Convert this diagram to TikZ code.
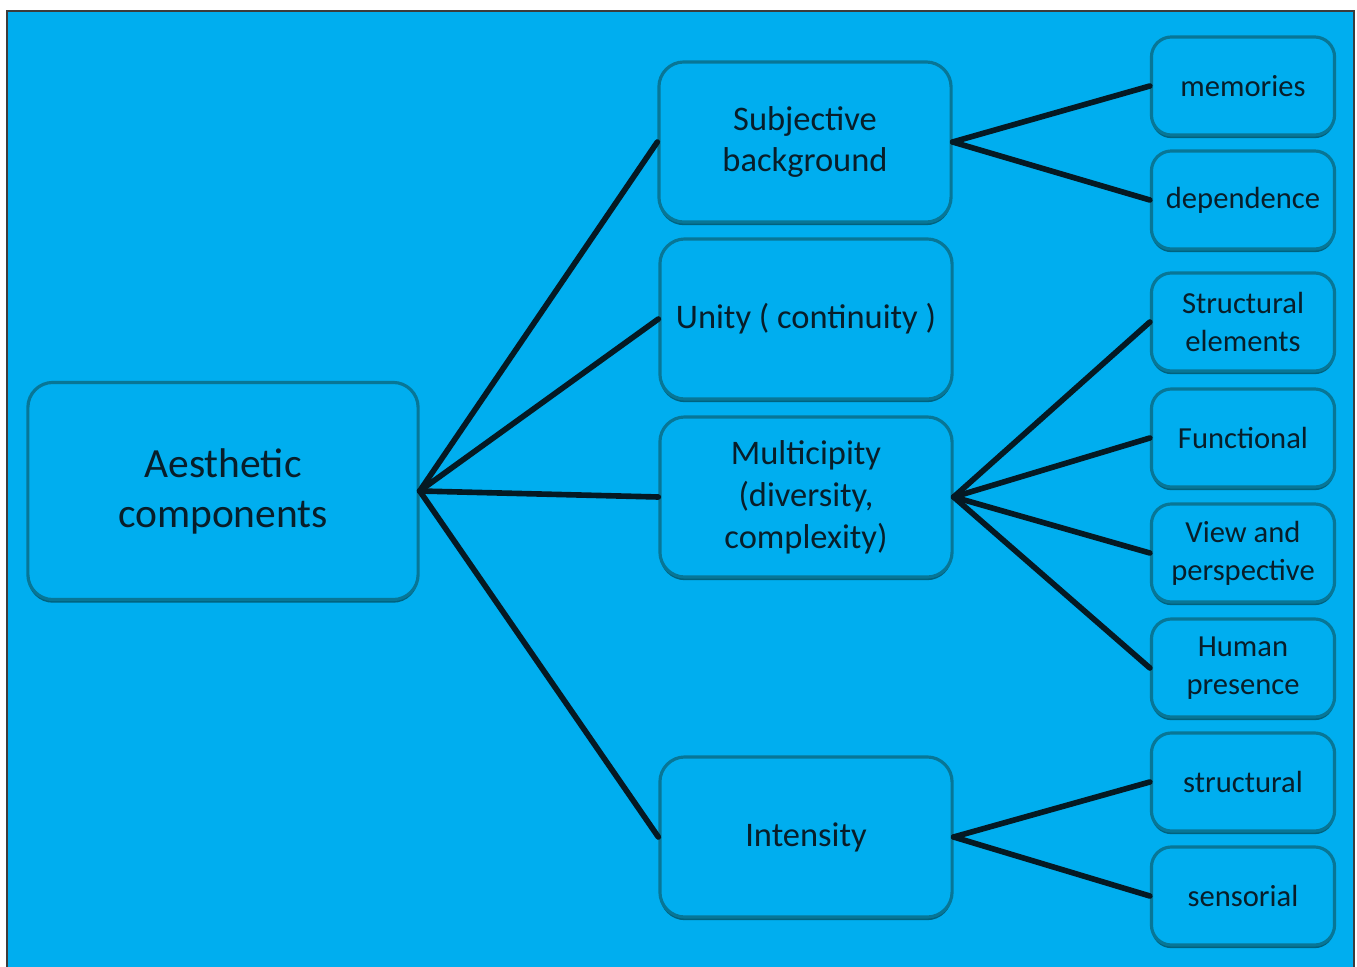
\documentclass[tikz,border=0pt]{standalone}
\usepackage{fontspec}
\setmainfont{Carlito}
\usepackage{tikz}
\usetikzlibrary{shadows}
\usepackage{xcolor}
\definecolor{acblue}{RGB}{0,174,239}
\definecolor{acedge}{RGB}{8,118,150}
\definecolor{acshadow}{RGB}{0,80,100}
\definecolor{acline}{RGB}{5,25,35}
\definecolor{actext}{RGB}{8,30,42}
\definecolor{acframe}{RGB}{60,60,60}
\tikzstyle{link} = [line width=1.6pt,color=acline,line cap=round]
\tikzstyle{compbox} = [rectangle, rounded corners=2.5mm, text centered, align=center, draw=acedge, fill=acblue, line width=0.9pt, text=actext, drop shadow={shadow xshift=0pt, shadow yshift=-0.9pt, fill=acshadow, opacity=0.8}]
\tikzstyle{rootbox} = [compbox, minimum width=3.9cm, minimum height=2.17cm, font=\fontsize{11.8}{14.2}\selectfont]
\tikzstyle{midbox} = [compbox, minimum width=2.92cm, minimum height=1.6cm, inner sep=2pt, font=\fontsize{9.8}{11.9}\selectfont]
\tikzstyle{leafbox} = [compbox, minimum width=1.83cm, minimum height=0.98cm, inner sep=2pt, rounded corners=2mm, font=\fontsize{8.7}{10.8}\selectfont]

\begin{document}
\begin{tikzpicture}[x=0.01cm, y=-0.01cm]
    \useasboundingbox (0,0) rectangle (1357,967);
    % frame
    \fill[white] (0,0) rectangle (1357,967);
    \fill[acblue] (7,11) rectangle (1354,967);
    \draw[acframe, line width=0.6pt] (7,967) -- (7,11) -- (1354,11) -- (1354,967);

    % root
    \node[rootbox] (aes) at (223,491) {Aesthetic\\components};

    % middle column
    \node[midbox] (subj) at (805,142) {Subjective\\background};
    \node[midbox] (unity) at (806,319) {Unity ( continuity )};
    \node[midbox] (multi) at (806,497) {Multicipity\\(diversity,\\complexity)};
    \node[midbox] (inten) at (806,837) {Intensity};

    % right column
    \node[leafbox] (mem) at (1243,86) {memories};
    \node[leafbox] (dep) at (1243,200) {dependence};
    \node[leafbox] (strel) at (1243,322) {Structural\\elements};
    \node[leafbox] (func) at (1243,438) {Functional};
    \node[leafbox] (view) at (1243,553) {View and\\perspective};
    \node[leafbox] (human) at (1243,668) {Human\\presence};
    \node[leafbox] (struc) at (1243,782) {structural};
    \node[leafbox] (sens) at (1243,896) {sensorial};

    % links
    \foreach \m in {subj,unity,multi,inten}
        \draw[link] (aes.east) -- (\m.west);
    \foreach \r in {mem,dep}
        \draw[link] (subj.east) -- (\r.west);
    \foreach \r in {strel,func,view,human}
        \draw[link] (multi.east) -- (\r.west);
    \foreach \r in {struc,sens}
        \draw[link] (inten.east) -- (\r.west);
\end{tikzpicture}
\end{document}
